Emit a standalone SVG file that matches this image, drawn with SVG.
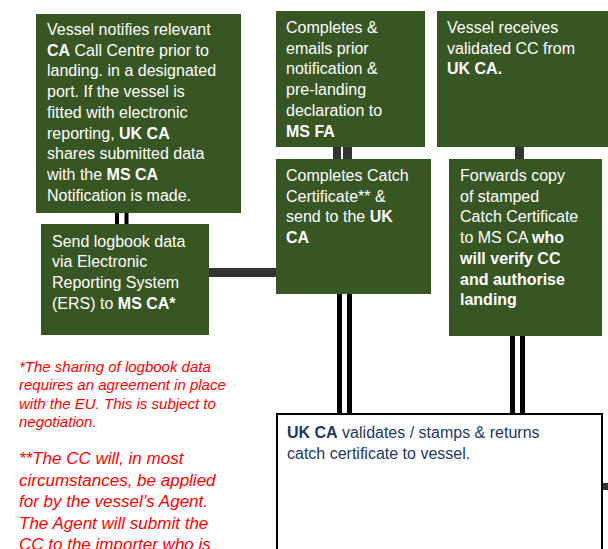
<svg xmlns="http://www.w3.org/2000/svg" width="608" height="549" viewBox="0 0 608 549">
<style>
.box{fill:#375623}
.t{font-family:"Liberation Sans",Arial,sans-serif;font-size:16px;fill:#ffffff}
.b{font-weight:bold}
.n{font-family:"Liberation Sans",Arial,sans-serif;font-size:16px;fill:#1f3864}
.r{font-family:"Liberation Sans",Arial,sans-serif;font-style:italic;fill:#ff0000}
.dk{fill:#333333}
.bk{fill:#000000}
</style>
<rect width="608" height="549" fill="#ffffff"/>
<g id="connectors">
<rect class="bk" x="115" y="212" width="4" height="13"/>
<rect class="bk" x="124.5" y="212" width="4" height="13"/>
<rect class="dk" x="208" y="268" width="69" height="9"/>
<rect class="dk" x="333" y="146" width="8" height="14"/>
<rect class="dk" x="343" y="146" width="9" height="14"/>
<rect class="dk" x="515" y="146" width="9" height="14"/>
<rect class="bk" x="337" y="293" width="5" height="122"/>
<rect class="bk" x="347" y="293" width="5" height="122"/>
<rect class="bk" x="510" y="335" width="5" height="80"/>
<rect class="bk" x="520" y="335" width="5" height="80"/>
<rect class="dk" x="601" y="483" width="7" height="7"/>
</g>
<g id="node-notify">
<rect class="box" x="36" y="14" width="205" height="199"/>
<text class="t" x="47">
<tspan x="47" y="35">Vessel notifies relevant</tspan>
<tspan x="47" y="55.7"><tspan class="b">CA</tspan> Call Centre prior to</tspan>
<tspan x="47" y="76.4">landing. in a designated</tspan>
<tspan x="47" y="97.1">port. If the vessel is</tspan>
<tspan x="47" y="117.8">fitted with electronic</tspan>
<tspan x="47" y="138.5">reporting, <tspan class="b">UK CA</tspan></tspan>
<tspan x="47" y="159.2">shares submitted data</tspan>
<tspan x="47" y="179.9">with the <tspan class="b">MS CA</tspan></tspan>
<tspan x="47" y="200.6">Notification is made.</tspan>
</text>
</g>
<g id="node-logbook">
<rect class="box" x="41" y="224" width="168" height="111"/>
<text class="t">
<tspan x="52" y="246.5">Send logbook data</tspan>
<tspan x="52" y="267.2">via Electronic</tspan>
<tspan x="52" y="287.9">Reporting System</tspan>
<tspan x="52" y="308.6">(ERS) to <tspan class="b">MS CA*</tspan></tspan>
</text>
</g>
<g id="node-prenotify">
<rect class="box" x="276" y="11" width="149" height="136"/>
<text class="t">
<tspan x="286" y="33">Completes &amp;</tspan>
<tspan x="286" y="53.7">emails prior</tspan>
<tspan x="286" y="74.4">notification &amp;</tspan>
<tspan x="286" y="95.1">pre-landing</tspan>
<tspan x="286" y="115.8">declaration to</tspan>
<tspan x="286" y="136.5" class="b">MS FA</tspan>
</text>
</g>
<g id="node-receives">
<rect class="box" x="437" y="11" width="171" height="136"/>
<text class="t">
<tspan x="447" y="33">Vessel receives</tspan>
<tspan x="447" y="53.7">validated CC from</tspan>
<tspan x="447" y="74.4" class="b">UK CA.</tspan>
</text>
</g>
<g id="node-catchcert">
<rect class="box" x="276" y="159" width="155" height="135"/>
<text class="t">
<tspan x="286" y="181">Completes Catch</tspan>
<tspan x="286" y="201.7">Certificate** &amp;</tspan>
<tspan x="286" y="222.4">send to the <tspan class="b">UK</tspan></tspan>
<tspan x="286" y="243.1" class="b">CA</tspan>
</text>
</g>
<g id="node-forwards">
<rect class="box" x="449" y="159" width="153" height="177"/>
<text class="t">
<tspan x="460" y="181">Forwards copy</tspan>
<tspan x="460" y="201.7">of stamped</tspan>
<tspan x="460" y="222.4">Catch Certificate</tspan>
<tspan x="460" y="243.1">to MS CA <tspan class="b">who</tspan></tspan>
<tspan x="460" y="263.8" class="b">will verify CC</tspan>
<tspan x="460" y="284.5" class="b">and authorise</tspan>
<tspan x="460" y="305.2" class="b">landing</tspan>
</text>
</g>
<g id="node-validates">
<rect x="277" y="414" width="325" height="145" fill="#ffffff" stroke="#000000" stroke-width="2"/>
<text class="n">
<tspan x="287" y="438"><tspan class="b">UK CA</tspan> validates / stamps &amp; returns</tspan>
<tspan x="287" y="458.7">catch certificate to vessel.</tspan>
</text>
</g>
<g id="notes">
<text class="r" font-size="15">
<tspan x="19" y="372">*The sharing of logbook data</tspan>
<tspan x="19" y="390.3">requires an agreement in place</tspan>
<tspan x="19" y="408.6">with the EU. This is subject to</tspan>
<tspan x="19" y="426.9">negotiation.</tspan>
</text>
<text class="r" font-size="17">
<tspan x="19" y="464">**The CC will, in most</tspan>
<tspan x="19" y="485.5">circumstances, be applied</tspan>
<tspan x="19" y="507">for by the vessel’s Agent.</tspan>
<tspan x="19" y="528.5">The Agent will submit the</tspan>
<tspan x="19" y="549.5">CC to the importer who is</tspan>
</text>
</g>
</svg>
